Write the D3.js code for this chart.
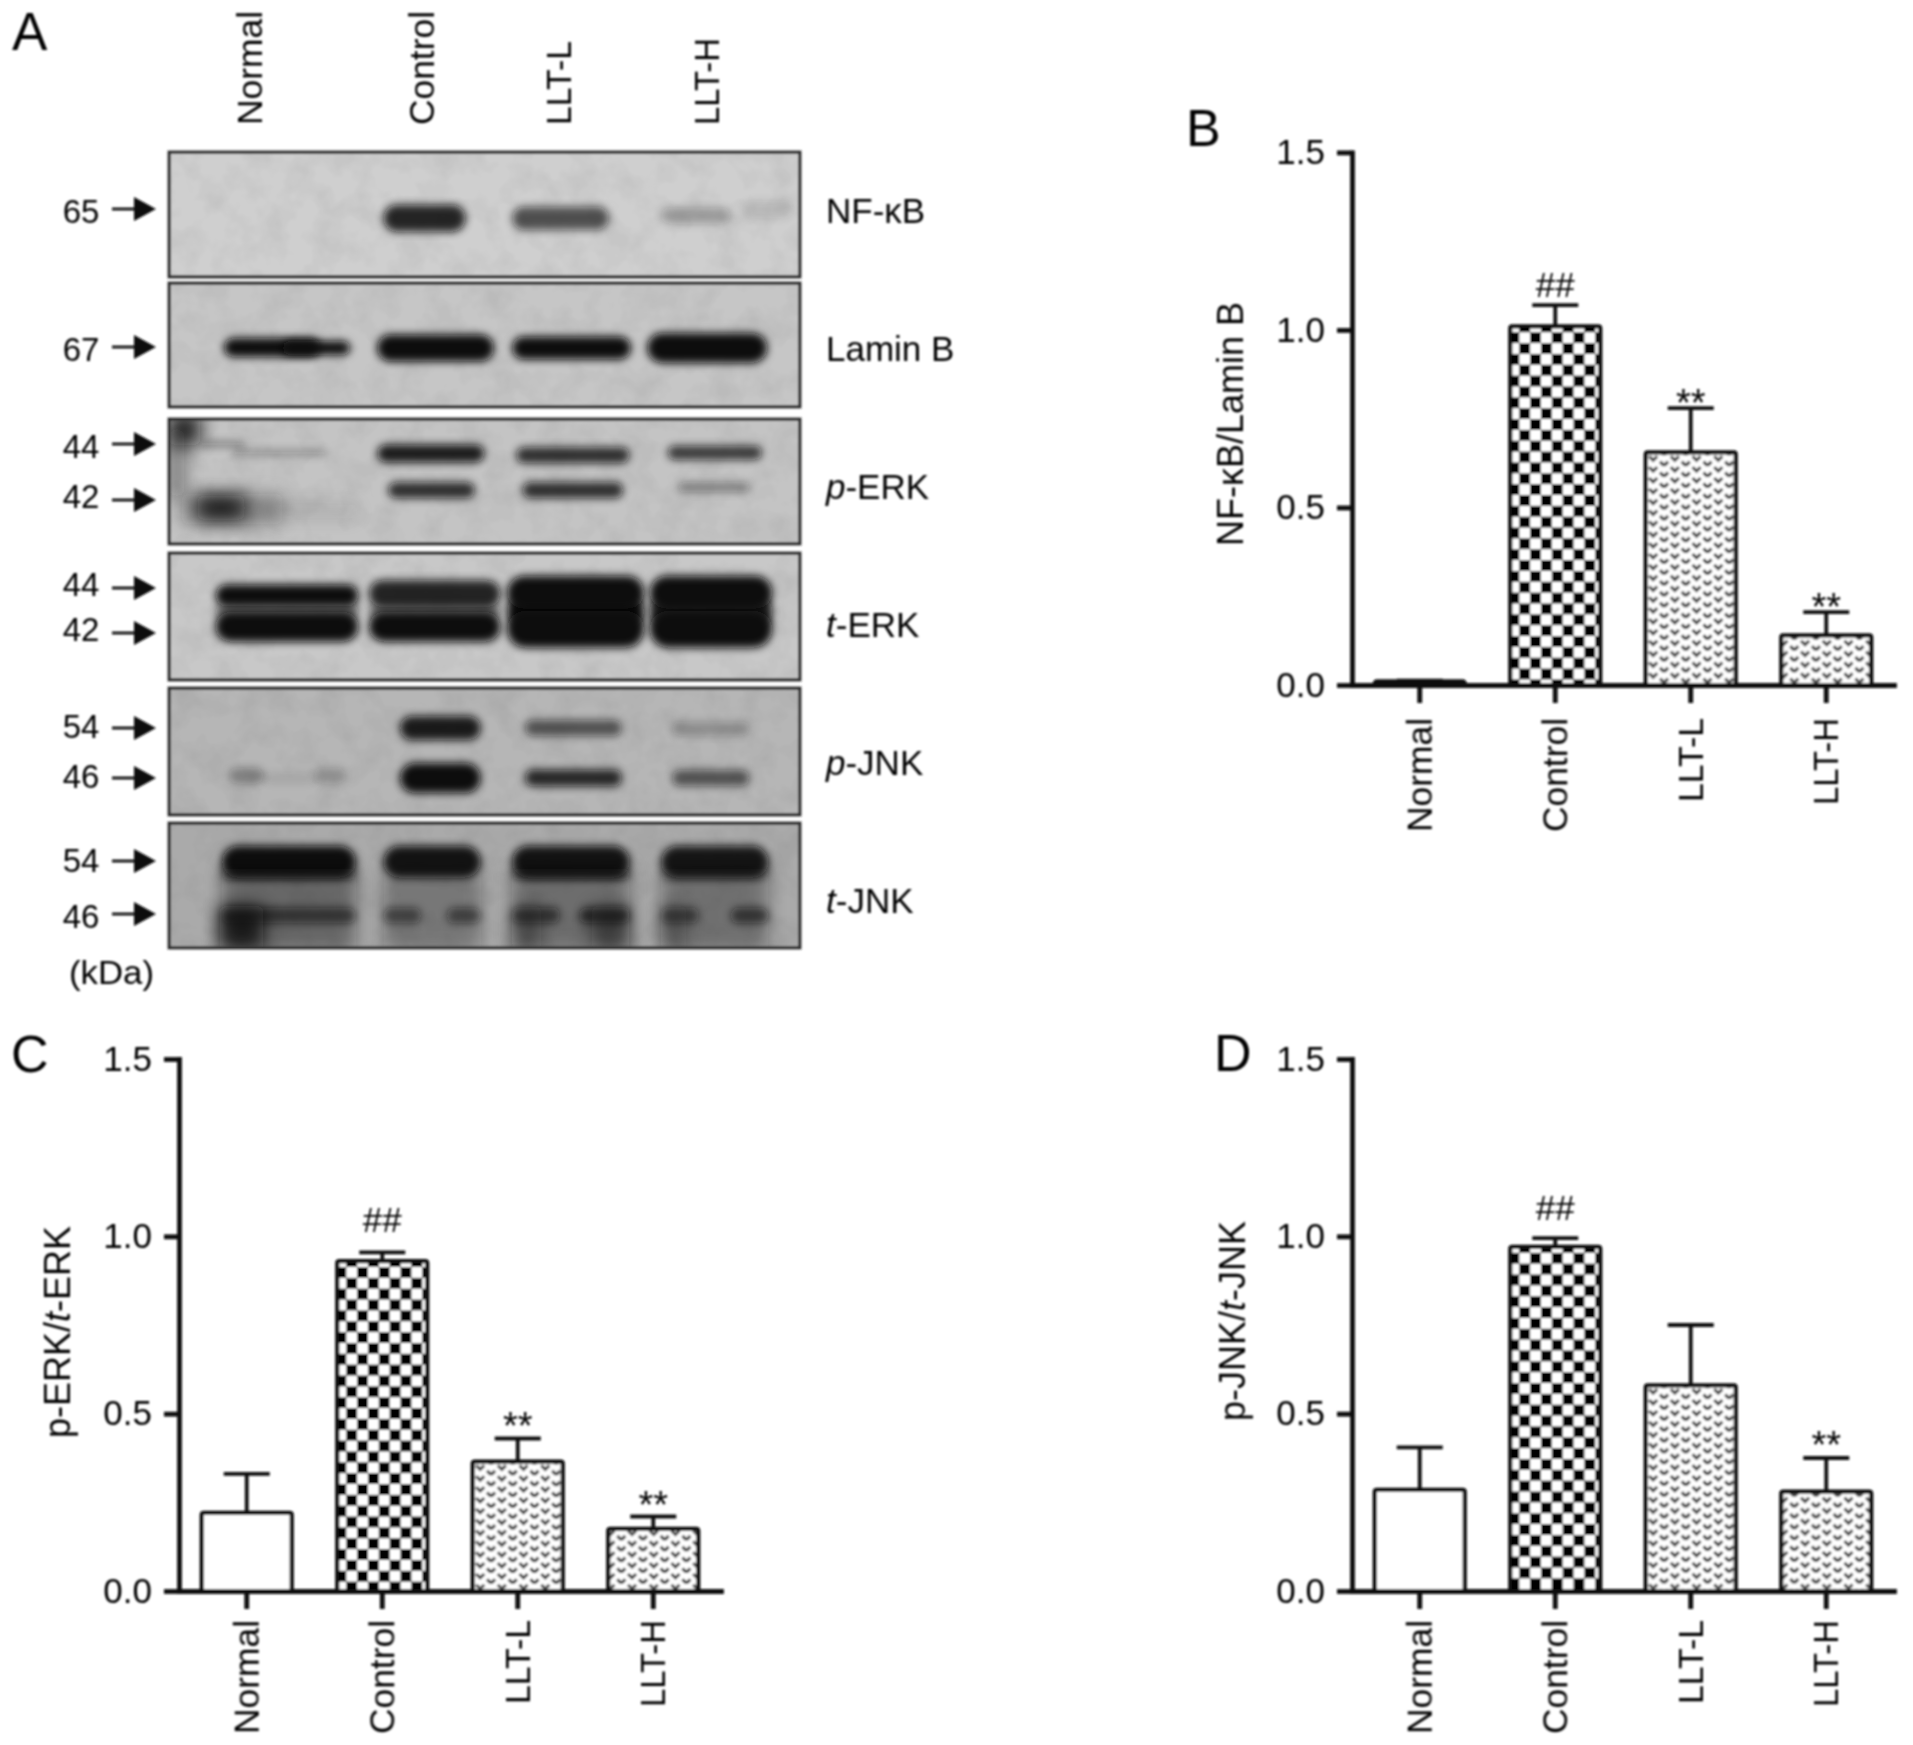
<!DOCTYPE html>
<html>
<head>
<meta charset="utf-8">
<script src="https://cdn.jsdelivr.net/npm/d3@7"></script>
<style>
  html, body { margin: 0; padding: 0; background: #fff; }
  svg { display: block; }
  text { font-family: "Liberation Sans", Arial, sans-serif; fill: #000; }
</style>
</head>
<body>
<script>
//screen width and height
var w = 1913;
var h = 1745;

// --- bar chart values ---
var categories = ["Normal", "Control", "LLT-L", "LLT-H"];
var yTicks = [0, 0.5, 1, 1.5];

var nfkbMeans = [0.01, 1.01, 0.655, 0.14];
var nfkbTops  = [0.012, 1.07, 0.78, 0.205];
var nfkbMarks = ["", "##", "**", "**"];

var erkMeans = [0.22, 0.93, 0.365, 0.175];
var erkTops  = [0.33, 0.955, 0.43, 0.21];
var erkMarks = ["", "##", "**", "**"];

var jnkMeans = [0.285, 0.97, 0.58, 0.28];
var jnkTops  = [0.405, 0.995, 0.75, 0.375];
var jnkMarks = ["", "##", "", "**"];

// --- blot labels ---
var blotLabels = [["", "NF-κB"], ["", "Lamin B"], ["p", "-ERK"], ["t", "-ERK"], ["p", "-JNK"], ["t", "-JNK"]];
var blotShades = ["#cfcfcf", "#c6c6c6", "#c4c4c4", "#c8c8c8", "#b6b6b6", "#aaaaaa"];
var kdaLabels  = [["65"], ["67"], ["44", "42"], ["44", "42"], ["54", "46"], ["54", "46"]];

// band density per row, [panel, height in blot %, thickness, [[from %, to %, ink]...], smear?]
var blotBands = [
  [0, 53, 27, [[34, 47, 0.88]]],
  [0, 53, 23, [[54.4, 69.7, 0.66]]],
  [0, 51, 16, [[78, 89, 0.26]]],
  [0, 46, 18, [[91, 99, 0.1]]],

  [1, 52.4, 27, [[33, 51.5, 1]]],
  [1, 52.4, 23, [[54.4, 73.2, 1]]],
  [1, 52.4, 30, [[75.8, 94.8, 1]]],
  [1, 52, 19, [[8.7, 24, 1]]],
  [1, 52.4, 14, [[18, 28.7, 1]]],

  [2, 27.5, 18, [[33, 50, 0.92]]],
  [2, 29, 16, [[55, 73, 0.82]]],
  [2, 27, 14, [[79, 94, 0.76]]],
  [2, 57, 16, [[34.7, 48.5, 0.82]]],
  [2, 57, 16, [[56, 72, 0.82]]],
  [2, 54.5, 10, [[80.7, 92, 0.38]]],
  [2, 71, 24, [[4.5, 12, 0.9]], true],
  [2, 72, 30, [[2, 18, 0.35]], true],
  [2, 74, 16, [[16, 30, 0.12]], true],
  [2, 8, 32, [[0, 5, 0.85]], true],
  [2, 35, 70, [[0, 2.5, 0.45]], true],
  [2, 20, 6, [[5, 12, 0.38]]],
  [2, 27, 6, [[10, 25, 0.3]]],

  [3, 46, 18, [[7.4, 30, 0.45], [31.7, 52.5, 0.45]]],
  [3, 46, 36, [[53.6, 75.3, 1], [76.2, 95.6, 0.9]]],
  [3, 33.5, 22, [[7.4, 30, 1]]],
  [3, 32, 27, [[31.7, 52.5, 0.88]]],
  [3, 31, 33, [[53.6, 75.3, 1], [76.2, 95.6, 1]]],
  [3, 58, 30, [[7.4, 30, 1], [31.7, 52.5, 1]]],
  [3, 60, 37, [[53.6, 75.3, 1], [76.2, 95.6, 1]]],

  [4, 31.5, 24, [[36.6, 49.4, 0.92]]],
  [4, 31.5, 16, [[56.4, 71.8, 0.6]]],
  [4, 32, 14, [[79.7, 92, 0.24]]],
  [4, 70.9, 30, [[36.6, 49.4, 1]]],
  [4, 70.9, 17, [[56.4, 71.8, 0.85]]],
  [4, 70.9, 16, [[79.7, 92, 0.6]]],
  [4, 69, 16, [[9.5, 15, 0.32], [23, 28, 0.22]]],
  [4, 71, 10, [[15, 23, 0.1]]],

  [5, 68, 90, [[8.4, 29.6, 0.42], [34, 49.4, 0.32], [54.4, 73, 0.38], [78, 95, 0.36]], true],
  [5, 31, 32, [[8.4, 29.6, 1], [34, 49.4, 0.96], [54.4, 73, 0.96], [78, 95, 0.94]]],
  [5, 41, 11, [[8.4, 29.6, 0.5], [54.4, 73, 0.55], [78, 95, 0.35]]],
  [5, 74, 16, [[8.4, 29.6, 0.58], [34, 40, 0.52], [44, 49.4, 0.52], [54.4, 62, 0.58], [65, 73, 0.68], [78, 84, 0.52], [89, 95, 0.62]]],
  [5, 84, 44, [[8, 15, 0.85], [54.4, 59, 0.4], [67, 73, 0.5], [78, 82, 0.3]], true]
];

// --- layout ---
var blotBoxes = [[152, 277], [283, 407], [419, 544], [553, 680], [688, 815], [823, 948]];
var blotX = d3.scaleLinear().domain([0, 100]).range([169, 800]);
var laneX = [250, 422, 559, 707];
var labelLength = {"Normal": 114, "Control": 114, "LLT-L": 84, "LLT-H": 87};

var panelB = {name: "B", left: 1352, top: 152.4, base: 685, labelX: 1243, labelY: 424, letterX: 1186, letterY: 146,
  title: ["NF-κB/Lamin B"], means: nfkbMeans, tops: nfkbTops, marks: nfkbMarks, hashGap: 20, starGap: 14, tickGap: 33};
var panelC = {name: "C", left: 179, top: 1059, base: 1591, labelX: 70, labelY: 1332, letterX: 11, letterY: 1072,
  title: ["p-ERK/", "t", "-ERK"], means: erkMeans, tops: erkTops, marks: erkMarks, hashGap: 32, starGap: 21, tickGap: 29};
var panelD = {name: "D", left: 1352, top: 1059, base: 1591, labelX: 1245, labelY: 1321, letterX: 1214, letterY: 1071,
  title: ["p-JNK/", "t", "-JNK"], means: jnkMeans, tops: jnkTops, marks: jnkMarks, hashGap: 30, starGap: 22, tickGap: 29};

var svg = d3.select("body").append("svg")
  .attr("width", w)
  .attr("height", h)
  .attr("viewBox", [0, 0, w, h]);

var defs = svg.append("defs");

// region is the whole page, a bbox region cuts the blur off on thin rects
var addBlur = function (id, dev) {
  defs.append("filter").attr("id", id)
    .attr("filterUnits", "userSpaceOnUse")
    .attr("x", 0).attr("y", 0).attr("width", w).attr("height", h)
    .append("feGaussianBlur").attr("stdDeviation", dev);
};
addBlur("band", 4.2);
addBlur("smear", 9);
addBlur("soft", 0.85);

// mottled film grain for the blots
var grain = defs.append("filter").attr("id", "grain").attr("x", 0).attr("y", 0).attr("width", "100%").attr("height", "100%");
grain.append("feTurbulence").attr("type", "fractalNoise").attr("baseFrequency", 0.035).attr("numOctaves", 3).attr("seed", 7);
grain.append("feColorMatrix").attr("type", "matrix")
  .attr("values", "0 0 0 0 0  0 0 0 0 0  0 0 0 0 0  1.1 0 0 0 -0.42");

// blots
var blots = svg.append("g");
blotBoxes.forEach(function (box, i) {
  defs.append("clipPath").attr("id", "clip" + i)
    .append("rect").attr("x", blotX(0)).attr("y", box[0]).attr("width", blotX(100) - blotX(0)).attr("height", box[1] - box[0]);

  var g = blots.append("g").attr("clip-path", "url(#clip" + i + ")");
  var yb = d3.scaleLinear().domain([0, 100]).range(box);

  g.append("rect").attr("x", blotX(0)).attr("y", box[0]).attr("width", blotX(100) - blotX(0)).attr("height", box[1] - box[0])
    .attr("fill", blotShades[i]);
  g.append("rect").attr("x", blotX(0)).attr("y", box[0]).attr("width", blotX(100) - blotX(0)).attr("height", box[1] - box[0])
    .attr("filter", "url(#grain)").attr("opacity", 0.1);

  blotBands.filter(function (d) { return d[0] === i; }).forEach(function (row) {
    g.selectAll(null).data(row[3]).enter().append("rect")
      .attr("x", function (d) { return blotX(d[0]); })
      .attr("width", function (d) { return blotX(d[1]) - blotX(d[0]); })
      .attr("y", yb(row[1]) - row[2] / 2)
      .attr("height", row[2])
      .attr("rx", row[4] ? 6 : row[2] / 2)
      .attr("fill", "#0a0a0a")
      .attr("opacity", function (d) { return d[2]; })
      .attr("filter", row[4] ? "url(#smear)" : "url(#band)");
  });

  blots.append("rect").attr("x", blotX(0)).attr("y", box[0]).attr("width", blotX(100) - blotX(0)).attr("height", box[1] - box[0])
    .attr("fill", "none").attr("stroke", "#2b2b2b").attr("stroke-width", 2.8).attr("filter", "url(#soft)");
});

// lane labels above the blots
var laneText = svg.append("g").attr("filter", "url(#soft)");
laneText.selectAll("text").data(categories).enter().append("text")
  .attr("transform", function (d, i) { return "translate(" + (laneX[i] + 12) + ",125) rotate(-90)"; })
  .attr("font-size", 35)
  .attr("textLength", function (d) { return labelLength[d]; })
  .attr("lengthAdjust", "spacingAndGlyphs")
  .text(function (d) { return d; });

// kDa labels and arrows
var arrowY  = [[209], [347], [444, 500], [588, 633], [728, 778], [861, 914]];
var kdaY    = [[212], [350], [447, 497], [585, 630], [727, 777], [861, 917]];
var nameY   = [211, 349, 487, 625, 763, 901];
var marks = svg.append("g").attr("filter", "url(#soft)");

blotBoxes.forEach(function (box, i) {
  kdaLabels[i].forEach(function (label, j) {
    marks.append("text").attr("x", 81).attr("y", kdaY[i][j] + 11).attr("text-anchor", "middle")
      .attr("font-size", 33).text(label);
    var ay = arrowY[i][j];
    marks.append("line").attr("x1", 112).attr("x2", 138).attr("y1", ay).attr("y2", ay)
      .attr("stroke", "#111").attr("stroke-width", 2.8);
    marks.append("path")
      .attr("d", d3.line()([[134, ay - 12], [156, ay], [134, ay + 12]]) + "Z")
      .attr("fill", "#111");
  });

  var t = marks.append("text").attr("x", 826).attr("y", nameY[i] + 12).attr("font-size", 35);
  if (blotLabels[i][0]) t.append("tspan").attr("font-style", "italic").text(blotLabels[i][0]);
  t.append("tspan").text(blotLabels[i][1]);
});

marks.append("text").attr("x", 69).attr("y", 984).attr("font-size", 33)
  .attr("textLength", 85).attr("lengthAdjust", "spacingAndGlyphs").text("(kDa)");
marks.append("text").attr("x", 12).attr("y", 50).attr("font-size", 53).text("A");

// bar panels
var tileSize = 21.7;

var createPatterns = function (p, x, y) {
  var check = defs.append("pattern").attr("id", "check" + p.name)
    .attr("patternUnits", "userSpaceOnUse")
    .attr("x", x("Control") + 9).attr("y", y(p.means[1]) - 5)
    .attr("width", tileSize).attr("height", tileSize);
  check.append("rect").attr("width", tileSize).attr("height", tileSize).attr("fill", "#fff");
  check.append("rect").attr("width", tileSize / 2).attr("height", tileSize / 2).attr("fill", "#000");
  check.append("rect").attr("x", tileSize / 2).attr("y", tileSize / 2)
    .attr("width", tileSize / 2).attr("height", tileSize / 2).attr("fill", "#000");

  // small grey hearts, two per tile, staggered
  var heart = defs.append("pattern").attr("id", "heart" + p.name)
    .attr("patternUnits", "userSpaceOnUse")
    .attr("x", x("LLT-L") + 2).attr("y", y(p.means[2]) + 3)
    .attr("width", tileSize).attr("height", tileSize / 2);
  heart.append("rect").attr("width", tileSize).attr("height", tileSize / 2).attr("fill", "#fff");
  [[5.4, 2.7], [16.3, 8.1]].forEach(function (c) {
    heart.append("path")
      .attr("d", d3.line()([[c[0] - 4, c[1] - 1.8], [c[0], c[1] + 2.2], [c[0] + 4, c[1] - 1.8]]))
      .attr("fill", "none").attr("stroke", "#444").attr("stroke-width", 3);
  });
};

var createPanel = function (p) {
  var step = 135.5;
  var x = d3.scaleBand().domain(categories)
    .range([p.left, p.left + 4 * step])
    .paddingInner(0.336).paddingOuter(0.168);
  var y = d3.scaleLinear().domain([0, 1.5]).range([p.base, p.top]);

  createPatterns(p, x, y);

  var g = svg.append("g").attr("filter", "url(#soft)");

  var fills = ["#fff", "url(#check" + p.name + ")", "url(#heart" + p.name + ")", "url(#heart" + p.name + ")"];

  // error bars first, the bar outline sits on top of them
  var err = g.selectAll(".err").data(categories).enter().append("g").attr("class", "err");
  err.append("line")
    .attr("x1", function (d) { return x(d) + x.bandwidth() / 2; })
    .attr("x2", function (d) { return x(d) + x.bandwidth() / 2; })
    .attr("y1", function (d, i) { return y(p.means[i]); })
    .attr("y2", function (d, i) { return y(p.tops[i]); })
    .attr("stroke", "#111").attr("stroke-width", 3.8);
  err.append("line")
    .attr("x1", function (d) { return x(d) + x.bandwidth() / 2 - 23; })
    .attr("x2", function (d) { return x(d) + x.bandwidth() / 2 + 23; })
    .attr("y1", function (d, i) { return y(p.tops[i]); })
    .attr("y2", function (d, i) { return y(p.tops[i]); })
    .attr("stroke", "#111").attr("stroke-width", 3.8);

  g.selectAll(".bar").data(categories).enter().append("rect")
    .attr("class", "bar")
    .attr("x", function (d) { return x(d); })
    .attr("width", x.bandwidth())
    .attr("y", function (d, i) { return y(p.means[i]); })
    .attr("height", function (d, i) { return p.base - y(p.means[i]); })
    .attr("rx", 2)
    .attr("fill", function (d, i) { return fills[i]; })
    .attr("stroke", "#0a0a0a").attr("stroke-width", 4.2);

  // significance marks
  g.selectAll(".sig").data(categories).enter().append("text")
    .attr("class", "sig")
    .attr("x", function (d) { return x(d) + x.bandwidth() / 2; })
    .attr("y", function (d, i) {
      var gap = p.marks[i] === "##" ? p.hashGap - 12 : p.starGap - 22;
      return y(p.tops[i]) - gap;
    })
    .attr("text-anchor", "middle")
    .attr("font-size", function (d, i) { return p.marks[i] === "##" ? 35 : 38; })
    .text(function (d, i) { return p.marks[i]; });

  // axes
  var yAxis = g.append("g").attr("transform", "translate(" + p.left + ",0)")
    .call(d3.axisLeft(y).tickValues(yTicks).tickFormat(d3.format(".1f")).tickSize(15).tickSizeOuter(0).tickPadding(12));
  var xAxis = g.append("g").attr("transform", "translate(0," + p.base + ")")
    .call(d3.axisBottom(x).tickSize(18).tickSizeOuter(0));

  [yAxis, xAxis].forEach(function (a) {
    a.select(".domain").attr("stroke", "#0a0a0a").attr("stroke-width", 4.8).attr("stroke-linecap", "square");
    a.selectAll(".tick line").attr("stroke", "#0a0a0a").attr("stroke-width", 4.8);
  });
  yAxis.attr("font-family", null);
  xAxis.attr("font-family", null);
  yAxis.selectAll("text").attr("font-size", 35).style("fill", "#000");
  xAxis.selectAll("text")
    .attr("font-size", 35)
    .attr("text-anchor", "end")
    .attr("x", 0).attr("dy", null).attr("y", 0)
    .attr("transform", "translate(12," + p.tickGap + ") rotate(-90)")
    .attr("textLength", function (d) { return labelLength[d]; })
    .attr("lengthAdjust", "spacingAndGlyphs")
    .style("fill", "#000");

  // y title
  var title = g.append("text")
    .attr("transform", "translate(" + p.labelX + "," + p.labelY + ") rotate(-90)")
    .attr("text-anchor", "middle")
    .attr("font-size", 36);
  title.selectAll("tspan").data(p.title).enter().append("tspan")
    .attr("font-style", function (d) { return d === "t" ? "italic" : null; })
    .text(function (d) { return d; });

  g.append("text").attr("x", p.letterX).attr("y", p.letterY).attr("font-size", 52).text(p.name);
};

createPanel(panelB);
createPanel(panelC);
createPanel(panelD);
</script>
</body>
</html>
